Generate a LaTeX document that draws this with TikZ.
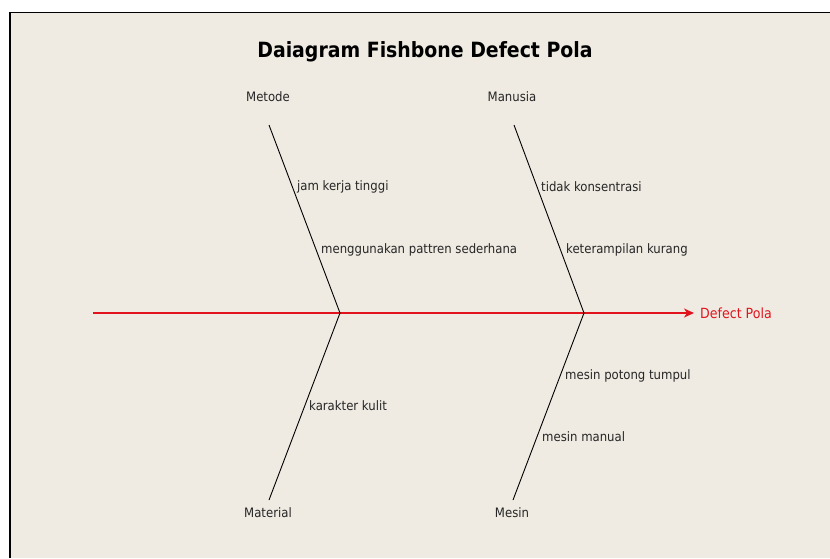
\documentclass[tikz,border=0pt]{standalone}
\usepackage{fontspec}
\setmainfont{DejaVu Sans Condensed}
\usetikzlibrary{arrows.meta}
\definecolor{paper}{RGB}{239,235,226}
\definecolor{spinered}{RGB}{225,20,30}
\tikzset{
  x=1pt, y=-1pt,
  bone/.style={line width=0.9pt, black},
  cause/.style={anchor=west, inner sep=0pt, font=\fontsize{13}{15}\selectfont, text=black!85},
  category/.style={anchor=center, inner sep=0pt, font=\fontsize{13}{15}\selectfont, text=black!85},
}
\begin{document}
\begin{tikzpicture}
  % canvas and window frame
  \fill[white] (0,0) rectangle (830,558);
  \useasboundingbox (0,0) rectangle (830,558);
  \fill[paper] (10,12.5) rectangle (830,558);
  \draw[line width=1.8pt, black] (10,558) -- (10,12.5) -- (830,12.5);

  % title
  \node[inner sep=0pt, font=\bfseries\fontsize{21}{25}\selectfont] (title) at (425,52) {Daiagram Fishbone Defect Pola};

  % spine
  \coordinate (tail) at (93,313);
  \coordinate (j1) at (340,313);
  \coordinate (j2) at (584,313);
  \coordinate (head) at (694,313);
  \draw[line width=1.1pt, spinered, -{Stealth[length=10pt, width=9pt, inset=3pt]}] (tail) -- (head);
  \node[anchor=west, inner sep=0pt, text=spinered, font=\fontsize{14}{16}\selectfont] (effect) at (700,313) {Defect Pola};

  % bone ends
  \coordinate (metodeEnd) at (269,125);
  \coordinate (manusiaEnd) at (514,125);
  \coordinate (materialEnd) at (269,500);
  \coordinate (mesinEnd) at (513,500);

  \draw[bone] (metodeEnd) -- (j1);
  \draw[bone] (manusiaEnd) -- (j2);
  \draw[bone] (materialEnd) -- (j1);
  \draw[bone] (mesinEnd) -- (j2);

  % categories
  \node[category] (metode) at (268,97) {Metode};
  \node[category] (manusia) at (512,97) {Manusia};
  \node[category] (material) at (268,513) {Material};
  \node[category] (mesin) at (512,513) {Mesin};

  % causes
  \node[cause] (c1) at (297,187) {jam kerja tinggi};
  \node[cause] (c2) at (321,250) {menggunakan pattren sederhana};
  \node[cause] (c3) at (541,187) {tidak konsentrasi};
  \node[cause] (c4) at (566,250) {keterampilan kurang};
  \node[cause] (c5) at (565,376) {mesin potong tumpul};
  \node[cause] (c6) at (542,437) {mesin manual};
  \node[cause] (c7) at (309,406) {karakter kulit};
\end{tikzpicture}
\end{document}
